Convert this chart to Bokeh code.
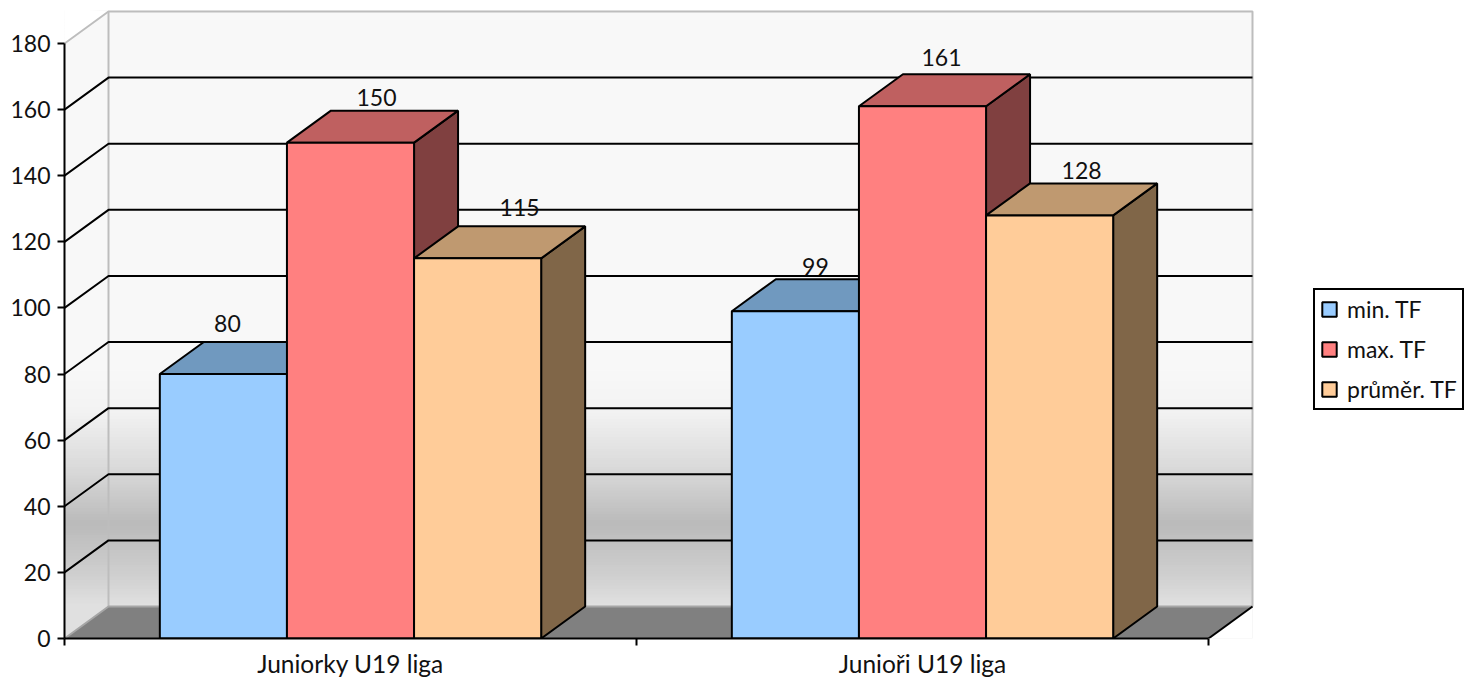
from bokeh.embed import file_html
from bokeh.resources import INLINE
from bokeh.plotting import figure
from bokeh.models import Range1d, FixedTicker, Legend, LegendItem
from bokeh.core.properties import value

# Chart data
categories = ["Juniorky U19 liga", "Junioři U19 liga"]
series_names = ["min. TF", "max. TF", "průměr. TF"]
min_tf = [80, 99]
max_tf = [150, 161]
prumer_tf = [115, 128]
value_ticks = [0, 20, 40, 60, 80, 100, 120, 140, 160, 180]

# Face colours of each series: front, top, side
front_colors = ["#99CCFF", "#FF8080", "#FFCC99"]
top_colors = ["#7099BF", "#BF6060", "#BF9970"]
side_colors = ["#4C667F", "#804040", "#806648"]

# Wall shading from floor level upward: (fraction of the wall height, grey level)
wall_stops = [(0.0, 225), (0.05, 208), (0.14, 186), (0.22, 214), (0.33, 243), (0.40, 248), (1.0, 248)]

# Oblique projection: the plot's depth expressed in axis units
PX_PER_CAT = 572.0
PX_PER_UNIT = 595.0 / 180.0
DEPTH_X = 44.0 / PX_PER_CAT
DEPTH_Y = 32.0 / PX_PER_UNIT
N_CAT = len(categories)
Y_MAX = value_ticks[-1]
BAR_W = 1.0 / 4.5
GAP = 0.75 * BAR_W

FONT = "Lato"
FONT_SIZE = "23px"
TEXT = "#111111"
EDGE = "#BDBDBD"

W, H = 1469, 682
LEFT, BOTTOM = 64, 44

p = figure(
    width=W, height=H, output_backend="svg", toolbar_location=None,
    x_range=Range1d(0, (W - LEFT) / PX_PER_CAT),
    y_range=Range1d(0, (H - BOTTOM) / PX_PER_UNIT),
    min_border_left=LEFT, min_border_bottom=BOTTOM,
    min_border_top=0, min_border_right=0,
    outline_line_color=None, background_fill_color="white",
)
p.grid.visible = False


def shade(level):
    return "#{0:02X}{0:02X}{0:02X}".format(int(round(level)))


def grey_at(frac):
    for (f0, g0), (f1, g1) in zip(wall_stops, wall_stops[1:]):
        if f0 <= frac <= f1:
            return g0 + (g1 - g0) * (frac - f0) / (f1 - f0)
    return wall_stops[-1][1]


# Shaded walls, built from thin horizontal bands running across both of them
n_bands = 200
band_lo, band_hi, band_colors = [], [], []
for i in range(n_bands):
    band_lo.append(DEPTH_Y + Y_MAX * i / n_bands)
    band_hi.append(DEPTH_Y + Y_MAX * (i + 1) / n_bands + 0.4)
    band_colors.append(shade(grey_at((i + 0.5) / n_bands)))
band_lo[0] = 0
p.quad(left=0, right=N_CAT + DEPTH_X, bottom=band_lo, top=band_hi,
       fill_color=band_colors, line_color=None)

# Blank out what lies beyond the side wall's slanted top edge
p.patch([0, DEPTH_X, 0], [Y_MAX, Y_MAX + DEPTH_Y, Y_MAX + DEPTH_Y + 1],
        fill_color="white", line_color=None)
# Blank out what lies below the floor's right-hand edge
p.patch([N_CAT, N_CAT + DEPTH_X, N_CAT + DEPTH_X], [0, 0, DEPTH_Y],
        fill_color="white", line_color=None)

# Floor
p.patch([0, N_CAT, N_CAT + DEPTH_X, DEPTH_X], [0, 0, DEPTH_Y, DEPTH_Y],
        fill_color="#808080", line_color=None)

# Wall outlines
p.line([0, DEPTH_X, N_CAT + DEPTH_X, N_CAT + DEPTH_X],
       [Y_MAX, Y_MAX + DEPTH_Y, Y_MAX + DEPTH_Y, DEPTH_Y], line_color=EDGE, line_width=2)
p.line([DEPTH_X, DEPTH_X], [DEPTH_Y, Y_MAX + DEPTH_Y], line_color=EDGE, line_width=2)
p.line([0, DEPTH_X, N_CAT + DEPTH_X], [0, DEPTH_Y, DEPTH_Y], line_color="#A6A6A6", line_width=2)
p.line([N_CAT, N_CAT + DEPTH_X], [0, DEPTH_Y], line_color="black", line_width=2)

# Gridlines across both walls
for t in value_ticks[1:-1]:
    p.line([0, DEPTH_X, N_CAT + DEPTH_X],
           [t, t + DEPTH_Y, t + DEPTH_Y], line_color="black", line_width=2)

# Bars, painted left to right so nearer faces overlap correctly
series_values = [min_tf, max_tf, prumer_tf]
legend_items = []
for c in range(N_CAT):
    for s, vals in enumerate(series_values):
        v = vals[c]
        x0 = c + GAP + s * BAR_W
        x1 = x0 + BAR_W
        p.patch([x1, x1 + DEPTH_X, x1 + DEPTH_X, x1], [0, DEPTH_Y, v + DEPTH_Y, v],
                fill_color=side_colors[s], line_color="black", line_width=2)
        p.patch([x0, x0 + DEPTH_X, x1 + DEPTH_X, x1], [v, v + DEPTH_Y, v + DEPTH_Y, v],
                fill_color=top_colors[s], line_color="black", line_width=2)
        r = p.quad(left=x0, right=x1, bottom=0, top=v,
                   fill_color=front_colors[s], line_color="black", line_width=2)
        if c == 0:
            legend_items.append(LegendItem(label=series_names[s], renderers=[r]))

# Value labels sit above each bar's top face; nudges are in screen pixels
label_nudge_x = [[-18, 4, 20], [-2, -3, 10]]
label_nudge_y = [[19, 13, 19], [13, 17, 13]]
for c in range(N_CAT):
    for s, vals in enumerate(series_values):
        v = vals[c]
        xc = c + GAP + (s + 0.5) * BAR_W + DEPTH_X / 2
        p.text([xc], [v + DEPTH_Y], text=[str(v)],
               x_offset=label_nudge_x[c][s], y_offset=-label_nudge_y[c][s],
               text_align="center", text_baseline="middle",
               text_font=value(FONT), text_font_size=FONT_SIZE, text_color=TEXT)

# Axes
ya = p.yaxis[0]
ya.ticker = FixedTicker(ticks=value_ticks)
ya.bounds = (0, Y_MAX)
ya.axis_line_color = "black"
ya.axis_line_width = 2
ya.major_tick_line_color = "black"
ya.major_tick_line_width = 2
ya.major_tick_in = 0
ya.major_tick_out = 7
ya.minor_tick_line_color = None
ya.major_label_standoff = 7
ya.major_label_text_font = FONT
ya.major_label_text_font_size = FONT_SIZE
ya.major_label_text_color = TEXT

xa = p.xaxis[0]
centres = [c + 0.5 for c in range(N_CAT)]
xa.ticker = FixedTicker(ticks=centres, minor_ticks=list(range(N_CAT + 1)))
xa.bounds = (0, N_CAT)
xa.major_label_overrides = dict(zip(centres, categories))
xa.axis_line_color = "black"
xa.axis_line_width = 2
xa.major_tick_line_color = None
xa.major_tick_in = 0
xa.major_tick_out = 0
xa.minor_tick_line_color = "black"
xa.minor_tick_line_width = 2
xa.minor_tick_in = 0
xa.minor_tick_out = 7
xa.major_label_standoff = 3
xa.major_label_text_font = FONT
xa.major_label_text_font_size = "24.5px"
xa.major_label_text_color = TEXT

# Legend at the right of the chart
legend = Legend(items=legend_items, location=(1249, 228), orientation="vertical",
                border_line_color="black", border_line_alpha=1.0, border_line_width=2,
                background_fill_color="white", background_fill_alpha=1.0,
                label_text_font=FONT, label_text_font_size="23px", label_text_color=TEXT,
                glyph_width=18, glyph_height=18, spacing=12, padding=5, margin=0,
                label_standoff=9)
p.add_layout(legend, "center")

open("out.html", "w").write(file_html(p, INLINE))
